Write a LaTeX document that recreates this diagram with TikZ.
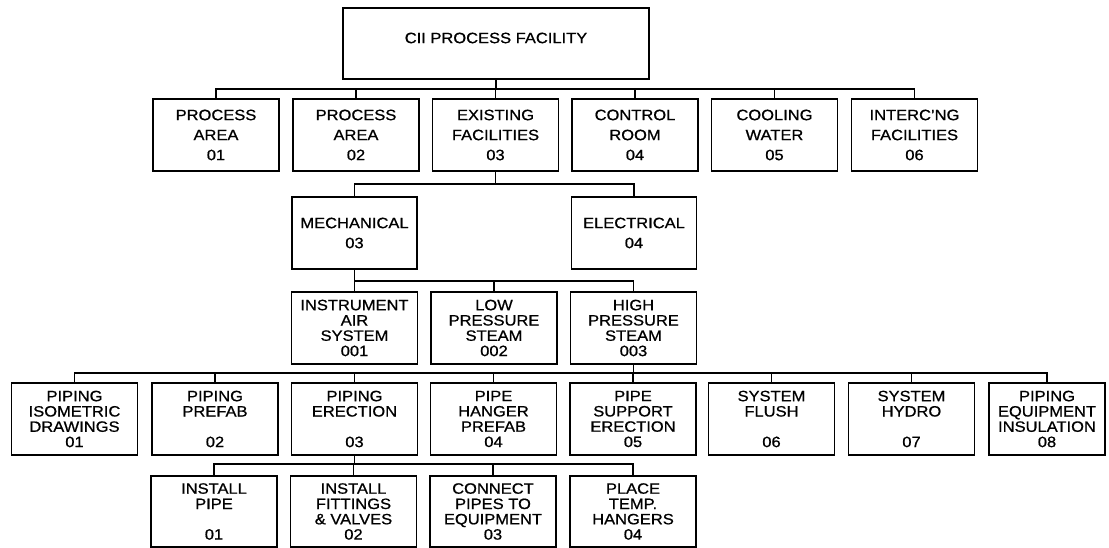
\documentclass[tikz,border=0pt]{standalone}
\usepackage{fontspec}
\setmainfont{Liberation Sans}[FakeStretch=1.1, FakeBold=0.8]
\begin{document}
\begin{tikzpicture}[x=1pt,y=-1pt,
  box/.style={draw, line width=1.7pt, minimum width=126pt, minimum height=72pt,
    inner sep=0pt, align=center, font=\fontsize{15}{15.3}\selectfont},
  wide/.style={box, font=\fontsize{15}{20}\selectfont},
  link/.style={line width=1.1pt}]
\useasboundingbox (0,0) rectangle (1109,548);

% top level
\node[box, minimum width=306pt, minimum height=71pt] (top) at (496,43.5) {};
\node[inner sep=0pt, font=\fontsize{15}{18}\selectfont] (toplabel) at (496,38) {CII PROCESS FACILITY};

% level 1
\node[wide] (a1) at (216,135)   {PROCESS\\AREA\\01};
\node[wide] (a2) at (356,135)   {PROCESS\\AREA\\02};
\node[wide] (a3) at (495.5,135) {EXISTING\\FACILITIES\\03};
\node[wide] (a4) at (635,135)   {CONTROL\\ROOM\\04};
\node[wide] (a5) at (774.5,135) {COOLING\\WATER\\05};
\node[wide] (a6) at (914.5,135) {INTERC’NG\\FACILITIES\\06};

% level 2
\node[wide, minimum width=125pt] (m1) at (354.5,233) {MECHANICAL\\03};
\node[wide, minimum width=125pt] (m2) at (634,233)   {ELECTRICAL\\04};

% level 3
\node[box] (s1) at (354.5,328) {INSTRUMENT\\AIR\\SYSTEM\\001};
\node[box] (s2) at (494,328)   {LOW\\PRESSURE\\STEAM\\002};
\node[box] (s3) at (633.5,328) {HIGH\\PRESSURE\\STEAM\\003};

% level 4
\node[box] (p1) at (74.5,419)  {PIPING\\ISOMETRIC\\DRAWINGS\\01};
\node[box] (p2) at (215,419)   {PIPING\\PREFAB\\\mbox{}\\02};
\node[box] (p3) at (354.5,419) {PIPING\\ERECTION\\\mbox{}\\03};
\node[box] (p4) at (493.5,419) {PIPE\\HANGER\\PREFAB\\04};
\node[box] (p5) at (633,419)   {PIPE\\SUPPORT\\ERECTION\\05};
\node[box] (p6) at (771.5,419) {SYSTEM\\FLUSH\\\mbox{}\\06};
\node[box] (p7) at (911.5,419) {SYSTEM\\HYDRO\\\mbox{}\\07};
\node[box, minimum width=116pt] (p8) at (1047,419) {PIPING\\EQUIPMENT\\INSULATION\\08};

% level 5
\node[box, minimum height=71pt] (t1) at (214,511.5)   {INSTALL\\PIPE\\\mbox{}\\01};
\node[box, minimum height=71pt] (t2) at (353.5,511.5) {INSTALL\\FITTINGS\\\& VALVES\\02};
\node[box, minimum height=71pt] (t3) at (493,511.5)   {CONNECT\\PIPES TO\\EQUIPMENT\\03};
\node[box, minimum height=71pt] (t4) at (633,511.5)   {PLACE\\TEMP.\\HANGERS\\04};

% bus levels
\coordinate (bus1) at (0,89);
\coordinate (bus2) at (0,184);
\coordinate (bus3) at (0,281);
\coordinate (bus4) at (0,373);
\coordinate (bus5) at (0,464);

% connectors
\foreach \c in {a1,a2,a3,a4,a5,a6}
  \draw[link] (top.south) -- (top.south |- bus1) -| (\c.north);
\foreach \c in {m1,m2}
  \draw[link] (a3.south) -- (a3.south |- bus2) -| (\c.north);
\foreach \c in {s1,s2,s3}
  \draw[link] (m1.south) -- (m1.south |- bus3) -| (\c.north);
\foreach \c in {p1,p2,p3,p4,p5,p6,p7,p8}
  \draw[link] (s3.south) -- (s3.south |- bus4) -| (\c.north);
\foreach \c in {t1,t2,t3,t4}
  \draw[link] (p3.south) -- (p3.south |- bus5) -| (\c.north);
\end{tikzpicture}
\end{document}
